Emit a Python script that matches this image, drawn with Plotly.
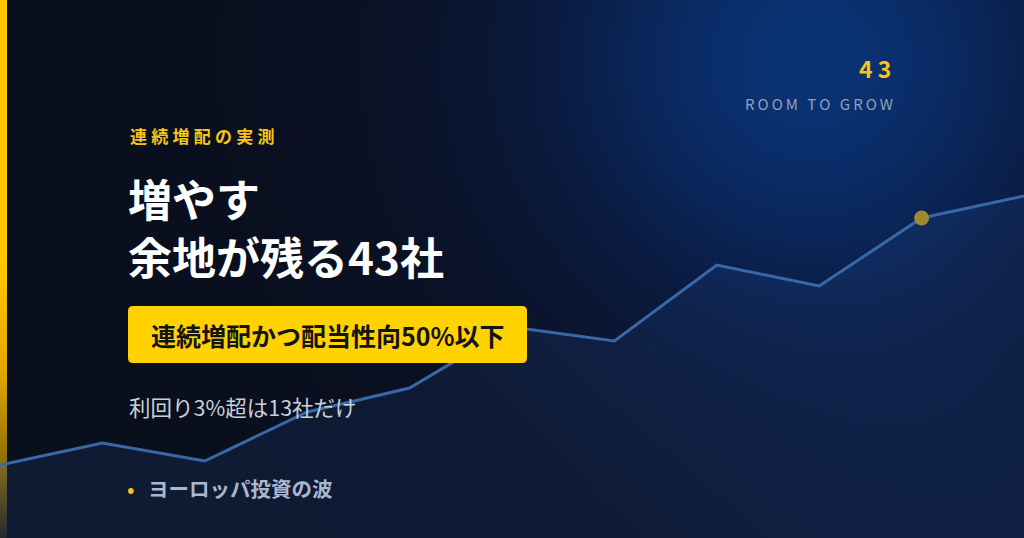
import numpy as np
import plotly.graph_objects as go

W, H = 1024, 538
FONT = "Noto Sans CJK JP"

# chart data (index level)
steps = list(range(11))
level = [73, 95, 77, 126, 150, 211, 197, 273, 252, 320, 342]
highlight_step = 9

# texts
kicker = "連続増配の実測"
title_lines = ["増やす", "余地が残る43社"]
badge = "連続増配かつ配当性向50%以下"
subline = "利回り3%超は13社だけ"
bullet_text = "ヨーロッパ投資の波"
big_number = "43"
big_label = "ROOM TO GROW"


def spaced(s, sep="\u2009"):
    return sep.join(list(s))


def px(x):
    return x / W


def py(y):
    return 1 - y / H


def round_rect(x0, y0, x1, y1, r):
    # pixel coords -> paper path with rounded corners
    X0, X1 = px(x0), px(x1)
    Y0, Y1 = py(y0), py(y1)
    rx, ry = r / W, r / H
    return (f"M{X0+rx},{Y0} L{X1-rx},{Y0} Q{X1},{Y0} {X1},{Y0-ry} "
            f"L{X1},{Y1+ry} Q{X1},{Y1} {X1-rx},{Y1} L{X0+rx},{Y1} "
            f"Q{X0},{Y1} {X0},{Y1+ry} L{X0},{Y0-ry} Q{X0},{Y0} {X0+rx},{Y0} Z")


fig = go.Figure()

# background glow (upper right)
gx = np.linspace(0, 10, 64)
gy = np.linspace(0, H, 40)
PX = gx[None, :] / 10 * W
PY = H - gy[:, None]
glow = np.exp(-(((PX - 810) / 300) ** 2) - (((PY - 60) / 290) ** 2))
glow += 0.22 * np.exp(-(((PX - 1000) / 300) ** 2) - (((PY - 520) / 200) ** 2))
fig.add_trace(go.Heatmap(
    x=gx, y=gy, z=glow, zsmooth="best", showscale=False, hoverinfo="skip",
    colorscale=[[0, "#0a0f1e"], [0.45, "#0a1a3e"], [1, "#0a3274"]],
    zmin=0, zmax=1,
))

# left accent bar
bar_rows = np.linspace(0, H, 120)
bar_z = np.clip((H - bar_rows - 260) / 278, 0, 1)[:, None]
fig.add_trace(go.Heatmap(
    x0=0.034, dx=0.068, y=bar_rows, z=bar_z, showscale=False, hoverinfo="skip",
    colorscale=[[0, "#ffc800"], [0.4, "#e0a800"], [0.75, "#8a6a0a"], [1, "#222018"]],
    zmin=0, zmax=1,
))

fig.add_trace(go.Scatter(
    x=steps, y=level, mode="lines",
    line=dict(color="#3868a8", width=3),
    fill="tozeroy", fillcolor="rgba(45,95,175,0.15)",
    hoverinfo="skip",
))
fig.add_trace(go.Scatter(
    x=[steps[highlight_step]], y=[level[highlight_step]], mode="markers",
    marker=dict(color="#9d8a2c", size=15),
    hoverinfo="skip",
))

fig.add_shape(type="path", xref="paper", yref="paper",
              path=round_rect(128, 306, 527, 363, 5),
              fillcolor="#ffd200", line_width=0, layer="above")

ann = [
    dict(text=spaced(kicker, "\u2005"), x=px(128), y=py(136), size=17, color="#f5c518", bold=True),
    dict(text=title_lines[0], x=px(126), y=py(198), size=44, color="#ffffff", bold=True),
    dict(text=title_lines[1], x=px(126), y=py(256), size=44, color="#ffffff", bold=True),
    dict(text=badge, x=px(149), y=py(335), size=25, color="#141414", bold=True),
    dict(text=subline, x=px(127), y=py(406), size=21.5, color="#c9d0dc", bold=False),
    dict(text="•", x=px(125), y=py(487), size=22, color="#f5c518", bold=False),
    dict(text=bullet_text, x=px(146), y=py(488), size=20.5, color="#aab7ce", bold=True),
]
for a in ann:
    txt = f"<b>{a['text']}</b>" if a["bold"] else a["text"]
    fig.add_annotation(text=txt, x=a["x"], y=a["y"], xref="paper", yref="paper",
                       xanchor="left", yanchor="middle", showarrow=False,
                       font=dict(family=FONT, size=a["size"], color=a["color"]))

fig.add_annotation(text=f"<b>{spaced(big_number, ' ')}</b>", x=px(893), y=py(68),
                   xref="paper", yref="paper", xanchor="right", yanchor="middle",
                   showarrow=False, font=dict(family=FONT, size=23, color="#f5c518"))
fig.add_annotation(text=spaced(big_label, "\u2009"), x=px(895), y=py(104),
                   xref="paper", yref="paper", xanchor="right", yanchor="middle",
                   showarrow=False, font=dict(family=FONT, size=15, color="#8fa0bf"))

fig.update_xaxes(range=[0, 10], visible=False, fixedrange=True)
fig.update_yaxes(range=[0, H], visible=False, fixedrange=True)
fig.update_layout(
    width=W, height=H, margin=dict(l=0, r=0, t=0, b=0),
    paper_bgcolor="#0a0f1e", plot_bgcolor="#0a0f1e",
    showlegend=False, hovermode=False,
)

fig.write_html("out.html", config={"displayModeBar": False},
               post_script="document.body.style.margin='0';")
